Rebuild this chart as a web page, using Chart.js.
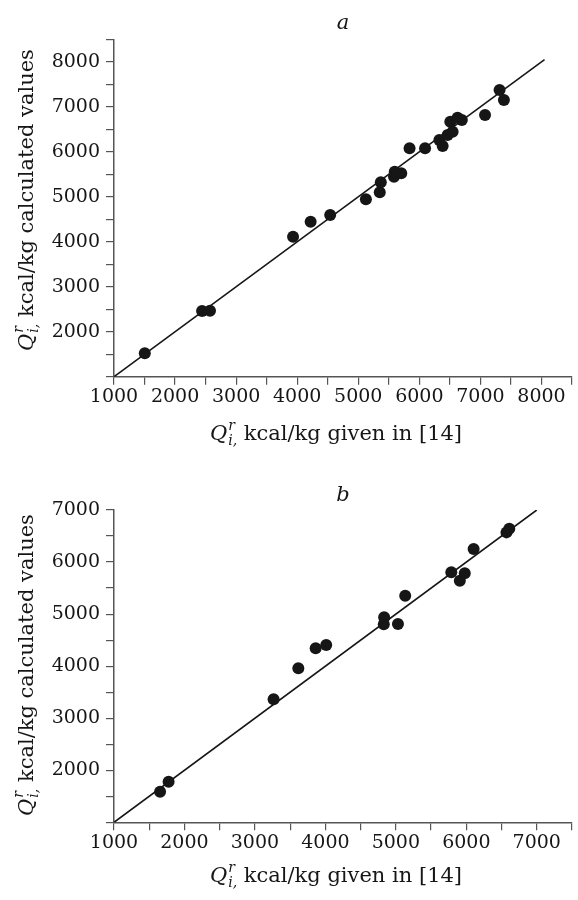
<!DOCTYPE html>
<html><head><meta charset="utf-8">
<script src="https://cdn.jsdelivr.net/npm/chart.js@4/dist/chart.umd.min.js"></script>
<style>
html,body{margin:0;padding:0;background:#fff;}
.wrap{position:relative;width:578px;height:450px;}
canvas{display:block;}
</style></head><body>
<div class="wrap"><canvas id="cA" width="578" height="450"></canvas></div>
<div class="wrap"><canvas id="cB" width="578" height="450"></canvas></div>
<script>
// ---- data (panel a) ----
const topX = [1504, 2442, 2572, 3932, 4220, 4540, 5125, 5352, 5369, 5585, 5597, 5704, 5840, 6094, 6328, 6382, 6463, 6507, 6545, 6626, 6696, 7076, 7314, 7385];
const topY = [1520, 2460, 2467, 4111, 4444, 4593, 4942, 5098, 5320, 5444, 5556, 5520, 6076, 6076, 6260, 6127, 6371, 6667, 6444, 6756, 6704, 6816, 7371, 7149];
const topLine = [1000, 8050];
const topXTicks = [1000, 2000, 3000, 4000, 5000, 6000, 7000, 8000];
const topYTicks = [2000, 3000, 4000, 5000, 6000, 7000, 8000];
// ---- data (panel b) ----
const botX = [1654, 1775, 3265, 3616, 3862, 4012, 4829, 4834, 5030, 5133, 5787, 5908, 5978, 6104, 6570, 6610];
const botY = [1588, 1780, 3363, 3959, 4343, 4406, 4804, 4939, 4810, 5354, 5803, 5642, 5784, 6251, 6570, 6640];
const botLine = [1000, 7000];
const botXTicks = [1000, 2000, 3000, 4000, 5000, 6000, 7000];
const botYTicks = [2000, 3000, 4000, 5000, 6000, 7000];
// ---- text ----
const panelTitles = ["a", "b"];
const qSymbol = "Q", qSup = "r", qSub = "i,";
const xTitleText = "kcal/kg given in [14]";
const yTitleText = "kcal/kg calculated values";

const FAM = '"DejaVu Serif", "Liberation Serif", serif';
const INK = '#161616';
const AX = '#555';

function drawQLabel(ctx, cx, cy, rot, rest) {
  ctx.save();
  ctx.translate(cx, cy);
  if (rot) ctx.rotate(-Math.PI / 2);
  const big = '21px ' + FAM, bigI = 'italic 21px ' + FAM, small = 'italic 14px ' + FAM;
  ctx.font = bigI; const wQ = ctx.measureText(qSymbol).width;
  ctx.font = small; const wS = Math.max(ctx.measureText(qSup).width, ctx.measureText(qSub).width);
  ctx.font = big; const wR = ctx.measureText(' ' + rest).width;
  const total = wQ + 1 + wS + wR;
  let x = -total / 2;
  ctx.fillStyle = INK; ctx.textBaseline = 'alphabetic'; ctx.textAlign = 'left';
  ctx.font = bigI; ctx.fillText(qSymbol, x, 0); x += wQ + 1;
  ctx.font = small; ctx.fillText(qSup, x, -10); ctx.fillText(qSub, x, 5); x += wS;
  ctx.font = big; ctx.fillText(' ' + rest, x, 0);
  ctx.restore();
}

function makeChart(id, xs, ys, line, xMax, yMax, xLabs, yLabs, title, cfg) {
  const pts = xs.map((v, i) => ({x: v, y: ys[i]}));
  const ln = line.map(v => ({x: v, y: v}));
  const titlePlugin = {
    id: 'axisTitles',
    afterDraw(chart) {
      const ctx = chart.ctx;
      drawQLabel(ctx, cfg.xtX, cfg.xtY, false, xTitleText);
      drawQLabel(ctx, cfg.ytX, cfg.ytY, true, yTitleText);
    }
  };
  return new Chart(document.getElementById(id), {
    type: 'scatter',
    data: {
      datasets: [
        {type: 'line', data: ln, borderColor: INK, borderWidth: 1.6, pointRadius: 0, fill: false, order: 2},
        {type: 'scatter', data: pts, backgroundColor: INK, borderWidth: 0, pointRadius: 6, order: 1}
      ]
    },
    options: {
      responsive: false,
      animation: false,
      layout: {padding: {left: 0, right: cfg.padRight, top: 0, bottom: 0}},
      plugins: {
        legend: {display: false},
        tooltip: {enabled: false},
        title: {
          display: true, text: title, fullSize: false, color: INK,
          font: {family: FAM, size: 21, style: 'italic', weight: 'normal', lineHeight: 1.2},
          padding: {top: cfg.tPadTop, bottom: cfg.tPadBot}
        }
      },
      scales: {
        x: {
          type: 'linear', min: 1000, max: xMax,
          afterFit: s => { s.height = cfg.xH; },
          border: {display: true, color: AX, width: 1.5},
          grid: {drawOnChartArea: false, drawTicks: true, tickLength: 8, color: AX, lineWidth: 1.2},
          ticks: {
            stepSize: 500, autoSkip: false, maxRotation: 0, padding: 1, color: INK,
            font: {family: FAM, size: 19},
            callback: v => xLabs.includes(v) ? String(v) : ''
          }
        },
        y: {
          type: 'linear', min: 1000, max: yMax,
          afterFit: s => { s.width = 114; },
          border: {display: true, color: AX, width: 1.5},
          grid: {drawOnChartArea: false, drawTicks: true, tickLength: 8, color: AX, lineWidth: 1.2},
          ticks: {
            stepSize: 500, autoSkip: false, padding: 6, color: INK,
            font: {family: FAM, size: 19},
            callback: v => yLabs.includes(v) ? String(v) : ''
          }
        }
      }
    },
    plugins: [titlePlugin]
  });
}

makeChart('cA', topX, topY, topLine, 8500, 8500, topXTicks, topYTicks, panelTitles[0],
  {padRight: 3, tPadTop: 11, tPadBot: 3.1, xH: 73.3, xtX: 336, xtY: 440, ytX: 33, ytY: 200});
makeChart('cB', botX, botY, botLine, 7500, 7000, botXTicks, botYTicks, panelTitles[1],
  {padRight: 1.3, tPadTop: 32.5, tPadBot: 2.3, xH: 77.7, xtX: 336, xtY: 432, ytX: 33, ytY: 215});
</script>
</body></html>
